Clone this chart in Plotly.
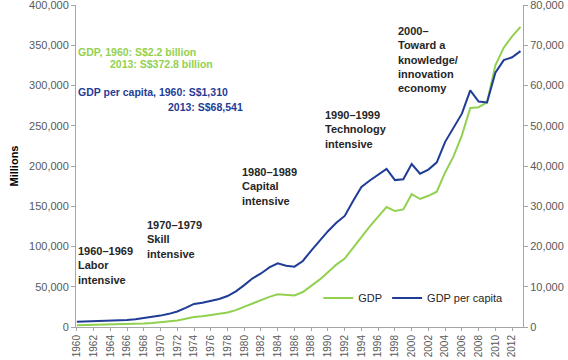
import plotly.graph_objects as go

years = list(range(1960, 2014))
gdp = [2150, 2330, 2513, 2790, 2714, 2956, 3330, 3745, 4315, 5019,
       5805, 6823, 8156, 10205, 12543, 13443, 14652, 16002, 17955, 20969,
       25091, 29625, 33112, 37444, 40652, 39538, 39263, 43416, 51038, 58820,
       68000, 77500, 85000, 98500, 113000, 125000, 137000, 149000, 144000, 146000,
       165000, 159000, 163000, 168000, 192000, 212000, 238000, 272000, 273000, 279000,
       325000, 347000, 361000, 372800]
gdp_pc = [1310, 1380, 1450, 1560, 1480, 1580, 1740, 1920, 2180, 2500,
          2830, 3270, 3850, 4740, 5730, 6030, 6470, 6970, 7700, 8870,
          10400, 12100, 13300, 14800, 15800, 15200, 15000, 16400, 19000, 21400,
          23800, 25900, 27600, 31300, 34800, 36400, 37900, 39300, 36500, 36700,
          40500, 38100, 39100, 40900, 46000, 49500, 53000, 58800, 56000, 55800,
          63200, 66300, 67000, 68541]
xticks = list(range(1960, 2013, 2))

GREEN = "#92d050"
BLUE = "#1f3c96"
TXT = "#262626"
TICK = "#595959"
FONT = "Liberation Sans, Arial, sans-serif"

fig = go.Figure()
fig.add_trace(go.Scatter(x=years, y=gdp, name="GDP", mode="lines",
                         line=dict(color=GREEN, width=2), yaxis="y"))
fig.add_trace(go.Scatter(x=years, y=gdp_pc, name="GDP per capita", mode="lines",
                         line=dict(color=BLUE, width=2), yaxis="y2"))

def axis_common(size=11, ticklen=4):
    return dict(showgrid=False, zeroline=False, showline=True, linecolor="#a6a6a6",
                linewidth=1, ticks="outside", ticklen=ticklen, tickcolor="#a6a6a6",
                automargin=False, ticklabeloverflow="allow",
                tickfont=dict(family=FONT, size=size, color=TICK))

fig.update_layout(
    template="none",
    width=568, height=360,
    margin=dict(l=76, r=45, t=5, b=33),
    paper_bgcolor="white", plot_bgcolor="white",
    font=dict(family=FONT),
    xaxis=dict(range=[1959.9, 2013.3], tickvals=xticks, tickangle=-90,
               **axis_common(10, 3)),
    yaxis=dict(range=[0, 400000], tickvals=list(range(0, 400001, 50000)),
               tickformat=",d",
               title=dict(text="<b>Millions</b>", font=dict(family=FONT, size=11, color="black"),
                          standoff=8),
               **axis_common()),
    yaxis2=dict(range=[0, 80000], tickvals=list(range(0, 80001, 10000)),
                tickformat=",d", overlaying="y", side="right", **axis_common()),
    showlegend=True,
    legend=dict(orientation="h", x=0.542, y=0.09, xanchor="left", yanchor="middle",
                itemwidth=30, bgcolor="rgba(0,0,0,0)",
                font=dict(family=FONT, size=11, color=TXT), traceorder="normal"),
)

def ann(text, x, y, color, yanchor="middle", size=11):
    fig.add_annotation(text=text, x=x, y=y, xref="x", yref="y", xanchor="left",
                       yanchor=yanchor, align="left", showarrow=False,
                       font=dict(family=FONT, size=size, color=color))

ann("<b>GDP, 1960: S$2.2 billion</b>", 1959.92, 341600, GREEN, size=10.5)
ann("<b>2013: S$372.8 billion</b>", 1963.75, 326700, GREEN, size=10.5)
ann("<b>GDP per capita, 1960: S$1,310</b>", 1959.92, 292000, BLUE, size=10.5)
ann("<b>2013: S$68,541</b>", 1970.65, 273000, BLUE, size=10.5)

ann("<b>1960–1969<br>Labor<br>intensive</b>", 1959.92, 104500, TXT, "top")
ann("<b>1970–1979<br>Skill<br>intensive</b>", 1968.15, 137000, TXT, "top")
ann("<b>1980–1989<br>Capital<br>intensive</b>", 1979.55, 203000, TXT, "top")
ann("<b>1990–1999<br>Technology<br>intensive</b>", 1989.4, 273000, TXT, "top")
ann("<b>2000–<br>Toward a<br>knowledge/<br>innovation<br>economy</b>", 1998.15, 378000, TXT, "top")

fig.write_html("out.html", config={"displayModeBar": False},
               post_script="document.body.style.margin='0';document.body.style.padding='0';")
